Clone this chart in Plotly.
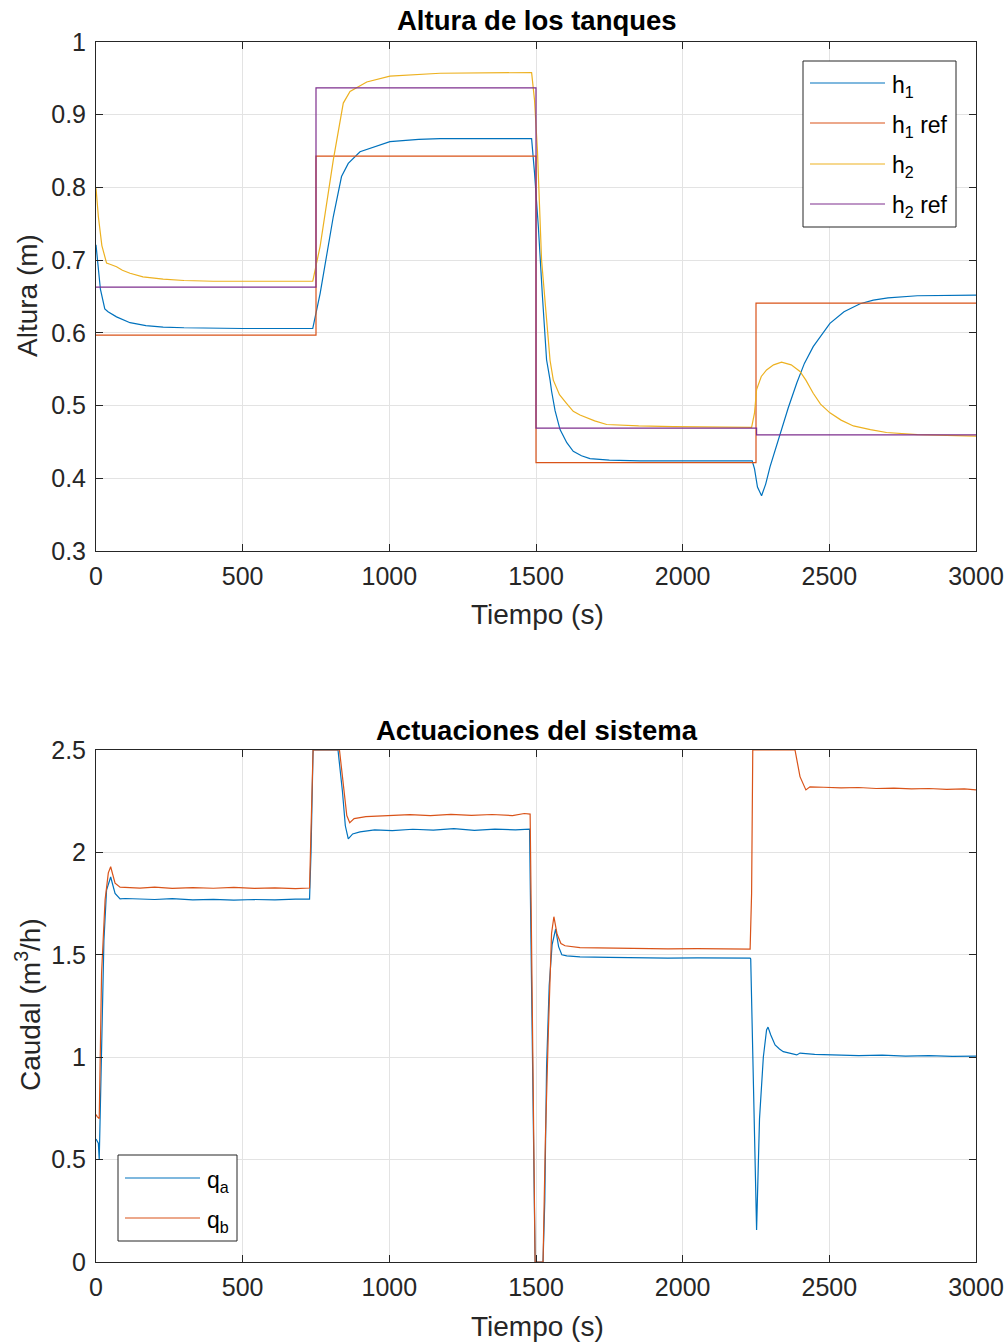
import plotly.graph_objects as go

# ---------------- Data: top chart (tank heights) ----------------
h1_t = [0, 5, 15, 30, 41, 70, 116, 170, 229, 300, 400, 500, 600, 739, 764, 809, 837, 860, 900, 1002, 1100, 1173, 1300, 1485,
        1495, 1508, 1522, 1536, 1548, 1553, 1565, 1582, 1605, 1627, 1655, 1684, 1750, 1855, 2000, 2237,
        2245, 2255, 2269, 2283, 2298, 2315, 2332, 2360, 2389, 2415, 2445, 2475, 2502, 2550, 2605, 2650, 2700, 2800, 2900, 3000]
h1 = [0.721, 0.70, 0.66, 0.633, 0.629, 0.622, 0.614, 0.610, 0.608, 0.607, 0.606, 0.606, 0.606, 0.606, 0.654, 0.760, 0.815, 0.833, 0.849, 0.863, 0.866, 0.867, 0.867, 0.867,
      0.82, 0.746, 0.65, 0.563, 0.535, 0.520, 0.493, 0.467, 0.449, 0.437, 0.431, 0.427, 0.425, 0.424, 0.424, 0.424,
      0.413, 0.388, 0.376, 0.392, 0.416, 0.438, 0.462, 0.497, 0.531, 0.558, 0.581, 0.598, 0.613, 0.629, 0.640, 0.645, 0.648, 0.651, 0.652, 0.652]

h2_t = [0, 8, 20, 36, 50, 70, 90, 116, 160, 229, 300, 400, 600, 739, 764, 809, 843, 866, 923, 1002, 1173, 1350, 1485,
        1495, 1505, 1519, 1535, 1548, 1559, 1580, 1604, 1627, 1650, 1700, 1741, 1850, 1968, 2100, 2235,
        2245, 2252, 2268, 2286, 2310, 2337, 2370, 2400, 2420, 2445, 2470, 2502, 2540, 2582, 2640, 2695, 2800, 2900, 3000]
h2 = [0.799, 0.76, 0.72, 0.696, 0.694, 0.691, 0.686, 0.682, 0.677, 0.674, 0.672, 0.671, 0.671, 0.671, 0.719, 0.838, 0.916, 0.932, 0.945, 0.953, 0.957, 0.958, 0.958,
      0.92, 0.85, 0.70, 0.62, 0.562, 0.535, 0.515, 0.503, 0.492, 0.487, 0.479, 0.474, 0.472, 0.471, 0.470, 0.470,
      0.49, 0.522, 0.54, 0.549, 0.556, 0.5596, 0.556, 0.547, 0.535, 0.517, 0.502, 0.490, 0.480, 0.472, 0.467, 0.463, 0.460, 0.459, 0.458]

h1ref_t = [0, 750, 750, 1500, 1500, 2250, 2250, 3000]
h1ref = [0.597, 0.597, 0.843, 0.843, 0.4215, 0.4215, 0.641, 0.641]

h2ref_t = [0, 750, 750, 1500, 1500, 2252, 2252, 3000]
h2ref = [0.663, 0.663, 0.937, 0.937, 0.469, 0.469, 0.4597, 0.4597]

# ---------------- Data: bottom chart (flows) ----------------
qa_t = [0, 8, 11, 19, 27, 36, 50, 65, 82, 100, 150, 200, 260, 330, 400, 470, 540, 610, 680, 728,
        733, 740, 825, 840, 850, 860, 875, 900, 950, 1010, 1080, 1150, 1220, 1290, 1360, 1430, 1478,
        1497, 1524, 1530, 1536, 1545, 1555, 1567, 1577, 1588, 1605, 1650, 1750, 1850, 1950, 2050, 2150, 2230,
        2232, 2252, 2262, 2275, 2286, 2291, 2300, 2315, 2330, 2343, 2389, 2400, 2450, 2520, 2600, 2680, 2760, 2840, 2920, 3000]
qa = [0.60, 0.58, 0.50, 1.00, 1.57, 1.816, 1.88, 1.80, 1.773, 1.775, 1.772, 1.770, 1.774, 1.768, 1.771, 1.767, 1.770, 1.768, 1.772, 1.772,
      2.00, 2.50, 2.50, 2.30, 2.13, 2.066, 2.09, 2.10, 2.11, 2.106, 2.113, 2.109, 2.116, 2.108, 2.114, 2.110, 2.114,
      0.0, 0.0, 0.30, 0.95, 1.35, 1.55, 1.626, 1.54, 1.50, 1.495, 1.490, 1.487, 1.485, 1.484, 1.485, 1.484, 1.484,
      1.48, 0.156, 0.70, 1.00, 1.133, 1.147, 1.11, 1.06, 1.04, 1.027, 1.011, 1.020, 1.014, 1.012, 1.008, 1.010, 1.005, 1.008, 1.004, 1.005]

qb_t = [0, 4, 11, 19, 31, 42, 50, 65, 82, 100, 150, 200, 260, 330, 400, 470, 540, 610, 680, 728,
        733, 740, 830, 845, 855, 865, 880, 920, 1000, 1070, 1140, 1210, 1280, 1350, 1420, 1460, 1480,
        1497, 1524, 1532, 1542, 1553, 1561, 1572, 1585, 1599, 1650, 1750, 1850, 1950, 2050, 2150, 2230,
        2235, 2239, 2383, 2400, 2420, 2434, 2480, 2540, 2600, 2660, 2720, 2780, 2840, 2900, 2960, 3000]
qb = [0.72, 0.71, 0.70, 1.41, 1.768, 1.90, 1.93, 1.85, 1.83, 1.828, 1.826, 1.830, 1.824, 1.828, 1.825, 1.829, 1.824, 1.827, 1.823, 1.826,
      2.10, 2.50, 2.50, 2.30, 2.18, 2.145, 2.165, 2.175, 2.180, 2.184, 2.180, 2.186, 2.181, 2.185, 2.180, 2.190, 2.187,
      0.0, 0.0, 0.60, 1.12, 1.605, 1.686, 1.60, 1.555, 1.544, 1.535, 1.532, 1.530, 1.529, 1.530, 1.528, 1.528,
      1.80, 2.50, 2.50, 2.37, 2.305, 2.32, 2.318, 2.315, 2.317, 2.312, 2.314, 2.310, 2.312, 2.308, 2.310, 2.305]

top_names = ["h<sub>1</sub>", "h<sub>1</sub> ref", "h<sub>2</sub>", "h<sub>2</sub> ref"]
bot_names = ["q<sub>a</sub>", "q<sub>b</sub>"]

x_ticks = [0, 500, 1000, 1500, 2000, 2500, 3000]
top_y_ticks = [0.3, 0.4, 0.5, 0.6, 0.7, 0.8, 0.9, 1.0]
top_y_labels = ["0.3", "0.4", "0.5", "0.6", "0.7", "0.8", "0.9", "1"]
bot_y_ticks = [0, 0.5, 1, 1.5, 2, 2.5]
bot_y_labels = ["0", "0.5", "1", "1.5", "2", "2.5"]

# MATLAB default colours
C_BLUE = "#0072BD"
C_ORANGE = "#D95319"
C_YELLOW = "#EDB120"
C_PURPLE = "#7E2F8E"
top_colors = [C_BLUE, C_ORANGE, C_YELLOW, C_PURPLE]
bot_colors = [C_BLUE, C_ORANGE]

FONT = "Liberation Sans, Arial, Helvetica, sans-serif"
TXT = "#262626"

W, H = 1008, 1343
fig = go.Figure()

LW = 1.2
top_series = [(h1_t, h1), (h1ref_t, h1ref), (h2_t, h2), (h2ref_t, h2ref)]
for (tx, ty), nm, col in zip(top_series, top_names, top_colors):
    fig.add_trace(go.Scatter(x=tx, y=ty, mode="lines", name=nm, line=dict(color=col, width=LW),
                             xaxis="x", yaxis="y", showlegend=False))
bot_series = [(qa_t, qa), (qb_t, qb)]
for (tx, ty), nm, col in zip(bot_series, bot_names, bot_colors):
    fig.add_trace(go.Scatter(x=tx, y=ty, mode="lines", name=nm, line=dict(color=col, width=LW),
                             xaxis="x2", yaxis="y2", showlegend=False))

x0, x1 = 96 / W, 976 / W
top_dom = [1 - 551 / H, 1 - 42 / H]
bot_dom = [1 - 1262 / H, 1 - 750 / H]

axis_common = dict(
    showline=True, linecolor=TXT, linewidth=1, mirror="ticks",
    ticks="inside", ticklen=7, tickcolor=TXT, tickwidth=1,
    showgrid=True, gridcolor="#E3E3E3", gridwidth=1, zeroline=False,
    tickfont=dict(family=FONT, size=25, color=TXT), automargin=False,
)

fig.update_layout(
    template="none",
    width=W, height=H,
    margin=dict(l=0, r=0, t=0, b=0, pad=0),
    paper_bgcolor="white", plot_bgcolor="white",
    font=dict(family=FONT, color=TXT),
    xaxis=dict(domain=[x0, x1], range=[0, 3000], tickvals=x_ticks, anchor="y", ticklabelstandoff=3, **axis_common),
    yaxis=dict(domain=top_dom, range=[0.3, 1.0], tickvals=top_y_ticks, ticktext=top_y_labels, anchor="x",
               ticklabelstandoff=4, **axis_common),
    xaxis2=dict(domain=[x0, x1], range=[0, 3000], tickvals=x_ticks, anchor="y2", ticklabelstandoff=3, **axis_common),
    yaxis2=dict(domain=bot_dom, range=[0, 2.5], tickvals=bot_y_ticks, ticktext=bot_y_labels, anchor="x2",
                ticklabelstandoff=4, **axis_common),
    showlegend=False,
)


def px(xp):
    return xp / W


def py(yp):
    return 1 - yp / H


shapes = []
ann = []

# Custom MATLAB-style legends (box, sample lines, labels)
def add_legend(box, line_x, text_x, line_ys, names, colors):
    bx0, by0, bx1, by1 = box
    shapes.append(dict(type="rect", xref="paper", yref="paper", x0=px(bx0), x1=px(bx1), y0=py(by1), y1=py(by0),
                       line=dict(color=TXT, width=1), fillcolor="white", layer="above"))
    for ly, nm, col in zip(line_ys, names, colors):
        shapes.append(dict(type="line", xref="paper", yref="paper", x0=px(line_x[0]), x1=px(line_x[1]),
                           y0=py(ly), y1=py(ly), line=dict(color=col, width=1.2), layer="above"))
        ann.append(dict(text=nm, x=px(text_x), y=py(ly + 3), xref="paper", yref="paper", showarrow=False,
                        xanchor="left", yanchor="middle", font=dict(family=FONT, size=23, color="#000000")))


add_legend((803, 61, 956, 227), (810, 885), 890, [83, 123, 164, 204], top_names, top_colors)
add_legend((118, 1155, 237, 1241), (125, 200), 205, [1178, 1218], bot_names, bot_colors)

ann.append(dict(text="<b>Altura de los tanques</b>", x=px(537), y=py(20), xref="paper", yref="paper",
                showarrow=False, font=dict(family=FONT, size=27.5, color="#000000"), xanchor="center", yanchor="middle"))
ann.append(dict(text="<b>Actuaciones del sistema</b>", x=px(537), y=py(730), xref="paper", yref="paper",
                showarrow=False, font=dict(family=FONT, size=27.5, color="#000000"), xanchor="center", yanchor="middle"))
ann.append(dict(text="Tiempo (s)", x=px(537), y=py(614), xref="paper", yref="paper",
                showarrow=False, font=dict(family=FONT, size=28, color=TXT), xanchor="center", yanchor="middle"))
ann.append(dict(text="Tiempo (s)", x=px(537), y=py(1326), xref="paper", yref="paper",
                showarrow=False, font=dict(family=FONT, size=28, color=TXT), xanchor="center", yanchor="middle"))
ann.append(dict(text="Altura (m)", x=px(28), y=py(296), xref="paper", yref="paper", textangle=-90,
                showarrow=False, font=dict(family=FONT, size=28, color=TXT), xanchor="center", yanchor="middle"))
ann.append(dict(text="Caudal (m<sup>3</sup>/h)", x=px(28), y=py(1005), xref="paper", yref="paper", textangle=-90,
                showarrow=False, font=dict(family=FONT, size=28, color=TXT), xanchor="center", yanchor="middle"))

fig.update_layout(shapes=shapes, annotations=ann)

fig.write_html("out.html")
